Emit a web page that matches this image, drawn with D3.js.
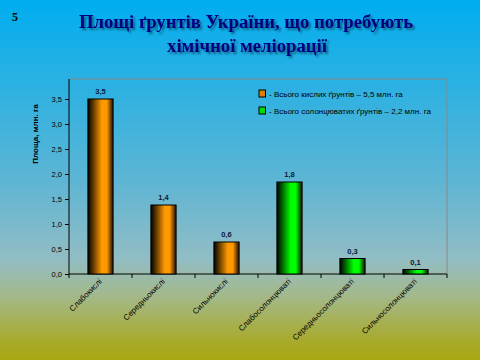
<!DOCTYPE html>
<html>
<head>
<meta charset="utf-8">
<script src="https://cdn.jsdelivr.net/npm/d3@7"></script>
<style>
  body { margin: 0; }
  svg { display: block; }
</style>
</head>
<body>
<div id="chart"></div>
<script>
// chart data
const categories = ['Слабокислі', 'Середньокислі', 'Сильнокислі', 'Слабосолонцюваті', 'Середньосолонцюваті', 'Сильносолонцюваті']
const values = [3.5, 1.38, 0.64, 1.84, 0.31, 0.09]
const groups = ['acid', 'acid', 'acid', 'salt', 'salt', 'salt']
const yTicks = [0, 0.5, 1, 1.5, 2, 2.5, 3, 3.5]
const legendLabels = ['- Всього кислих  ґрунтів  – 5,5  млн. га', '- Всього солонцюватих  ґрунтів  – 2,2 млн. га']

const W = 480
const H = 360
const margin = { top: 79, right: 33, bottom: 86, left: 69 }
const width = W - margin.left - margin.right
const height = H - margin.top - margin.bottom

const svg = d3.select('#chart')
  .append('svg')
  .attr('width', W)
  .attr('height', H)

const defs = svg.append('defs')

// background gradient
const bg = defs.append('linearGradient')
  .attr('id', 'bg')
  .attr('x1', 0).attr('y1', 0).attr('x2', 0).attr('y2', 1)
const bgStops = [[0, '#00adef'], [0.5, '#5db5d4'], [0.72, '#92bdc4'], [0.82, '#a3b98c'], [0.95, '#a8aa2a'], [1, '#aaa810']]
bgStops.forEach(s => bg.append('stop').attr('offset', s[0]).attr('stop-color', s[1]))

// bar gradients, dark edges
const barColors = { acid: '#ff9900', salt: '#00ff00' }
Object.keys(barColors).forEach(k => {
  const g = defs.append('linearGradient')
    .attr('id', 'bar-' + k)
    .attr('x1', 0).attr('y1', 0).attr('x2', 1).attr('y2', 0)
  g.append('stop').attr('offset', 0).attr('stop-color', '#000')
  g.append('stop').attr('offset', 0.55).attr('stop-color', barColors[k])
  g.append('stop').attr('offset', 0.75).attr('stop-color', barColors[k])
  g.append('stop').attr('offset', 1).attr('stop-color', '#1a0d00')
})

const shadow = defs.append('filter').attr('id', 'shadow')
  .attr('x', '-10%').attr('y', '-20%').attr('width', '130%').attr('height', '160%')
shadow.append('feGaussianBlur').attr('in', 'SourceAlpha').attr('stdDeviation', 1.2).attr('result', 'b')
shadow.append('feOffset').attr('in', 'b').attr('dx', 2).attr('dy', 2).attr('result', 'o')
shadow.append('feComponentTransfer').attr('in', 'o').attr('result', 'o2')
  .append('feFuncA').attr('type', 'linear').attr('slope', 0.45)
const merge = shadow.append('feMerge')
merge.append('feMergeNode').attr('in', 'o2')
merge.append('feMergeNode').attr('in', 'SourceGraphic')

svg.append('rect')
  .attr('width', W)
  .attr('height', H)
  .attr('fill', 'url(#bg)')

// slide number
svg.append('text')
  .attr('x', 12)
  .attr('y', 21)
  .attr('font-family', 'Liberation Serif, serif')
  .attr('font-weight', 'bold')
  .attr('font-size', 12)
  .text('5')

// title
const title = svg.append('text')
  .attr('text-anchor', 'middle')
  .attr('font-family', 'Liberation Serif, serif')
  .attr('font-weight', 'bold')
  .attr('font-size', 18.7)
  .attr('fill', '#000080')
  .attr('filter', 'url(#shadow)')
title.append('tspan').attr('x', 246).attr('y', 28).text('Площі ґрунтів  України, що потребують')
title.append('tspan').attr('x', 247).attr('y', 52).text('хімічної меліорації')

const g = svg.append('g')
  .attr('transform', 'translate(' + margin.left + ',' + margin.top + ')')

const x = d3.scaleBand()
  .domain(categories)
  .range([0, width])
  .paddingInner(0.6)
  .paddingOuter(0.3)

const y = d3.scaleLinear()
  .domain([0, 3.9])
  .range([height, 0])

// plot frame (top and right gray)
g.append('path')
  .attr('d', 'M0,0H' + width + 'V' + height)
  .attr('fill', 'none')
  .attr('stroke', '#888')
  .attr('stroke-width', 1)

const fmt = v => d3.format('.1f')(v).replace('.', ',')

const yAxis = g.append('g')
  .call(d3.axisLeft(y).tickValues(yTicks).tickSize(4).tickFormat(fmt))
yAxis.select('.domain').attr('d', 'M0,0V' + height).attr('stroke', '#000')
yAxis.selectAll('text')
  .attr('font-family', 'Liberation Sans, Arial, sans-serif')
  .attr('font-size', 7.5)
  .attr('fill', '#000')

// x axis with ticks at band edges
const xAxis = g.append('g')
  .attr('transform', 'translate(0,' + height + ')')
xAxis.append('line')
  .attr('x1', 0).attr('x2', width)
  .attr('stroke', '#000')
xAxis.selectAll('.edge')
  .data(d3.range(categories.length + 1))
  .enter()
  .append('line')
  .attr('x1', i => i * width / categories.length)
  .attr('x2', i => i * width / categories.length)
  .attr('y2', 4)
  .attr('stroke', '#000')

xAxis.selectAll('.xlabel')
  .data(categories)
  .enter()
  .append('text')
  .attr('transform', d => 'translate(' + (x(d) + x.bandwidth() / 2 + 2) + ',8) rotate(-45)')
  .attr('text-anchor', 'end')
  .attr('font-family', 'Liberation Sans, Arial, sans-serif')
  .attr('font-size', 8)
  .attr('fill', '#000')
  .text(d => d)

// bars
g.selectAll('.bar')
  .data(values)
  .enter()
  .append('rect')
  .attr('class', 'bar')
  .attr('x', (d, i) => x(categories[i]))
  .attr('y', d => y(d))
  .attr('width', x.bandwidth())
  .attr('height', d => height - y(d))
  .attr('fill', (d, i) => 'url(#bar-' + groups[i] + ')')
  .attr('stroke', '#000')
  .attr('stroke-width', 1)

g.selectAll('.val')
  .data(values)
  .enter()
  .append('text')
  .attr('x', (d, i) => x(categories[i]) + x.bandwidth() / 2)
  .attr('y', d => y(d) - 5)
  .attr('text-anchor', 'middle')
  .attr('font-family', 'Liberation Sans, Arial, sans-serif')
  .attr('font-weight', 'bold')
  .attr('font-size', 7.5)
  .attr('fill', '#0a1a3a')
  .text(d => fmt(d))

// y label
svg.append('text')
  .attr('transform', 'translate(38,134) rotate(-90)')
  .attr('text-anchor', 'middle')
  .attr('font-family', 'Liberation Sans, Arial, sans-serif')
  .attr('font-weight', 'bold')
  .attr('font-size', 8)
  .text('Площа,  млн. га')

// legend
const legend = svg.append('g')
  .attr('transform', 'translate(259,90)')
const legendKeys = ['acid', 'salt']
legendKeys.forEach((k, i) => {
  legend.append('rect')
    .attr('x', 0)
    .attr('y', i * 17)
    .attr('width', 6.5)
    .attr('height', 7)
    .attr('fill', k === 'acid' ? '#e08000' : '#00dd00')
    .attr('stroke', '#000')
  legend.append('text')
    .attr('x', 10)
    .attr('y', i * 17 + 6.5)
    .attr('font-family', 'Liberation Sans, Arial, sans-serif')
    .attr('font-size', 8)
    .attr('fill', '#000')
    .text(legendLabels[i])
})
</script>
</body>
</html>
